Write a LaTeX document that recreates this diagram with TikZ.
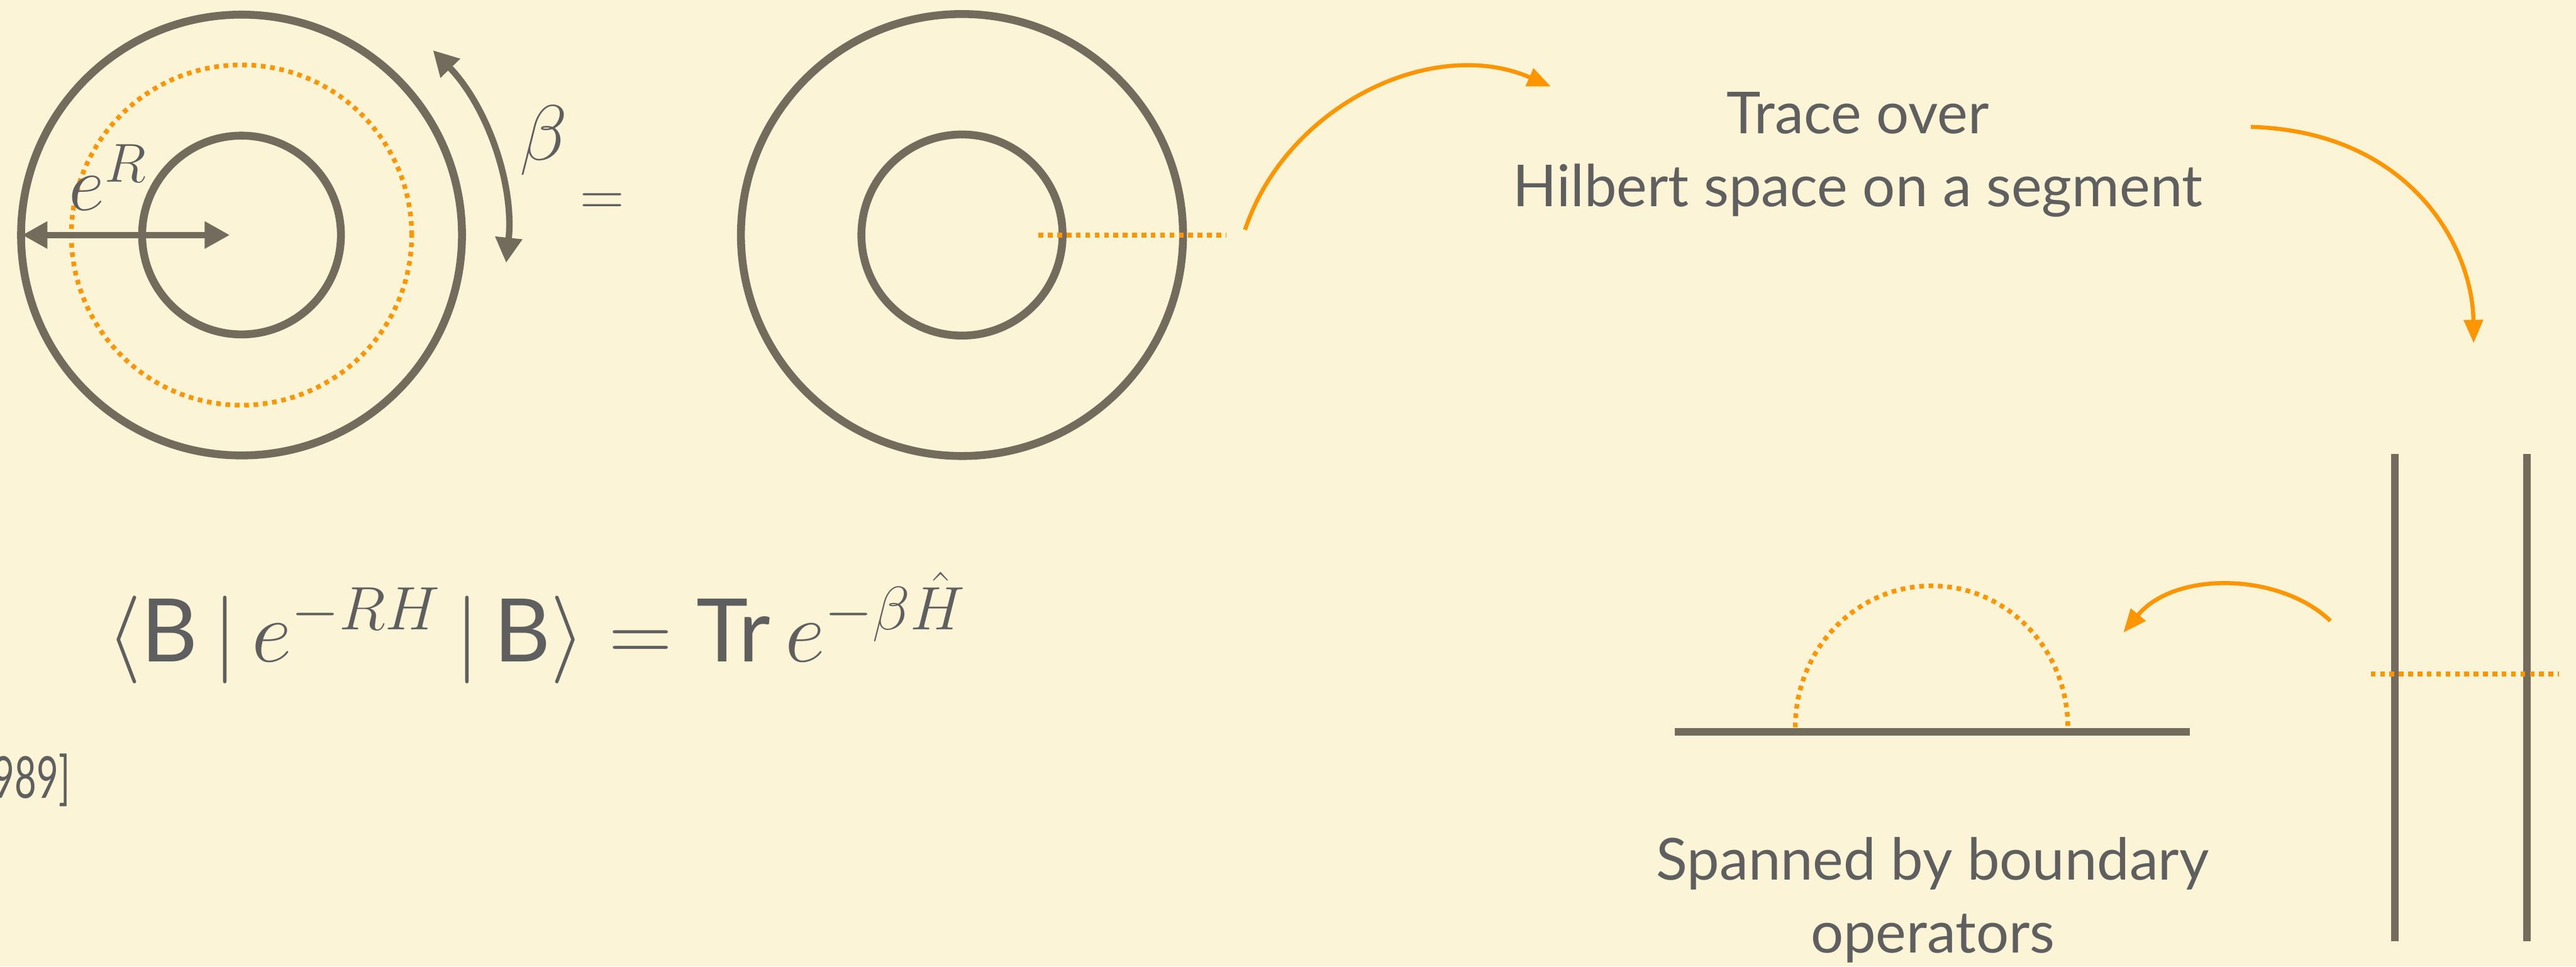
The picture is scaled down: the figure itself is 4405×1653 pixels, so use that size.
\RequirePackage{fix-cm}
\documentclass[tikz,border=0pt]{standalone}
\usepackage{amsmath}
\usepackage{fontspec}
\setmainfont{Lato}
\usetikzlibrary{arrows.meta}
\definecolor{bg}{HTML}{FCF4D7}
\definecolor{ink}{HTML}{736B5B}
\definecolor{org}{HTML}{FF9500}
\definecolor{txt}{HTML}{5F5F5F}
\begin{document}
\begin{tikzpicture}[x=1pt,y=1pt,
  thickline/.style={draw=ink,line width=13.5pt},
  dots/.style={draw=org,line width=8pt,dash pattern=on 8pt off 8pt},
  oarrow/.style={draw=org,line width=7pt,-{Triangle[length=40pt,width=32pt]}},
  garrow/.style={draw=ink,line width=11pt,{Triangle[length=43pt,width=44pt]}-{Triangle[length=43pt,width=44pt]}},
  lbl/.style={text=txt,font=\fontsize{99}{125}\selectfont,align=center,inner sep=0pt}]
\fill[bg] (0,0) rectangle (4405,-1653);
\useasboundingbox (0,0) rectangle (4405,-1653);

% left annulus
\coordinate (cA) at (413,-402);
\draw[thickline] (cA) circle[radius=377];
\draw[thickline] (cA) circle[radius=170];
\draw[dots] (cA) circle[radius=291];
\coordinate (rL) at (38,-402);
\coordinate (rR) at (393,-402);
\draw[garrow] (rL) -- (rR);
\node[text=txt,font=\fontsize{134}{134}\selectfont,anchor=base west,inner sep=0pt] (eR) at (118,-360) {$e^{R}$};
\draw[garrow] ([shift={(-6:455)}]cA) arc[start angle=-6,end angle=44,radius=455];
\node[text=txt,font=\fontsize{134}{134}\selectfont,inner sep=0pt] (beta) at (930,-240) {$\beta$};
\node[text=txt,font=\fontsize{105}{105}\selectfont,inner sep=0pt] (eq) at (1030,-350) {$=$};

% right annulus
\coordinate (cB) at (1645,-402);
\draw[thickline] (cB) circle[radius=378];
\draw[thickline] (cB) circle[radius=172];
\coordinate (sA) at (1776,-402);
\coordinate (sB) at (2097,-402);
\draw[dots] (sA) -- (sB);

% text top
\node[lbl,anchor=base] (trace) at (3177,-353) {Trace over\\Hilbert space on a segment};

% arrows
\coordinate (a1s) at (2129,-393);
\coordinate (a1e) at (2652,-148);
\draw[oarrow] (a1s) .. controls (2200,-180) and (2450,-60) .. (a1e);
\coordinate (a2s) at (3849,-217);
\coordinate (a2e) at (4230,-587);
\draw[oarrow] (a2s) .. controls (4120,-225) and (4228,-420) .. (a2e);
\coordinate (a3s) at (3985,-1062);
\coordinate (a3e) at (3631,-1082);
\draw[oarrow] (a3s) .. controls (3900,-980) and (3720,-975) .. (a3e);

% strip
\coordinate (v1t) at (4095,-776); \coordinate (v1b) at (4095,-1610);
\coordinate (v2t) at (4321,-776); \coordinate (v2b) at (4321,-1610);
\draw[thickline] (v1t) -- (v1b);
\draw[thickline] (v2t) -- (v2b);
\coordinate (hs) at (4054,-1153); \coordinate (he) at (4376,-1153);
\draw[dots] (hs) -- (he);

% half plane
\coordinate (bl) at (2864,-1252); \coordinate (br) at (3745,-1252);
\draw[thickline] (bl) -- (br);
\coordinate (arcS) at (3070,-1244);
\draw[dots] (arcS) arc[start angle=180,end angle=0,x radius=233,y radius=242];

\node[lbl,anchor=base] (span) at (3305,-1630) {Spanned by boundary\\operators};

% formula
\node[text=txt,font=\fontsize{150}{150}\selectfont,anchor=base west,inner sep=0pt] (formula) at (183,-1132)
  {$\langle\text{B}\,|\,e^{-RH}\,|\,\text{B}\rangle = \text{Tr}\,e^{-\beta\hat H}$};
\node[lbl,anchor=base east] (cite) at (120,-1365) {\scalebox{0.65}[1]{989]}};
\end{tikzpicture}
\end{document}
